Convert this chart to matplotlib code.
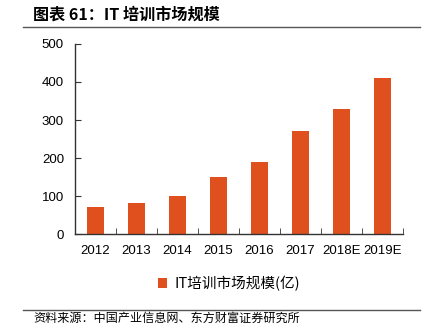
import matplotlib.pyplot as plt
from matplotlib.lines import Line2D

years = ['2012', '2013', '2014', '2015', '2016', '2017', '2018E', '2019E']
market_size = [72, 82, 100, 150, 190, 270, 330, 410]
series_name = 'IT培训市场规模(亿)'
title_text = '图表 61：IT 培训市场规模'
source_text = '资料来源：中国产业信息网、东方财富证券研究所'

cjk = ['Noto Sans CJK SC', 'DejaVu Sans']
bar_color = '#E0501E'

fig = plt.figure(figsize=(4.39, 3.33), dpi=100)
ax = fig.add_axes([0.171, 0.297, 0.747, 0.571])

x = range(len(years))
ax.bar(x, market_size, width=0.42, color=bar_color, label=series_name)

ax.set_xlim(-0.5, len(years) - 0.5)
ax.set_ylim(0, 500)
ax.set_yticks([0, 100, 200, 300, 400, 500])
ax.set_xticks(list(x))
ax.set_xticklabels(years)
ax.set_xticks([i + 0.5 for i in range(-1, len(years))], minor=True)

for side in ['top', 'right']:
    ax.spines[side].set_visible(False)
for side in ['left', 'bottom']:
    ax.spines[side].set_color('#333333')
    ax.spines[side].set_linewidth(1.0)

ax.tick_params(axis='y', direction='in', length=4, color='#333333',
               labelsize=9.5, pad=8)
ax.tick_params(axis='x', which='major', length=0, labelsize=9.5, pad=8)
ax.tick_params(axis='x', which='minor', direction='in', length=4, color='#333333')
for lab in ax.get_xticklabels() + ax.get_yticklabels():
    lab.set_family('Liberation Sans')

leg = ax.legend(loc='upper center', bbox_to_anchor=(0.47, -0.15), frameon=False,
                prop={'family': cjk, 'size': 10.5}, handlelength=0.6, handleheight=0.6,
                handletextpad=0.5)

fig.text(0.075, 0.955, title_text, fontsize=11.6, fontweight='bold', family=cjk,
         va='center', ha='left')
fig.add_artist(Line2D([0.052, 0.957], [0.918, 0.918], color='#555555', lw=1.0))
fig.add_artist(Line2D([0.052, 0.957], [0.069, 0.069], color='#555555', lw=1.0))
fig.text(0.075, 0.043, source_text, fontsize=8.7, family=cjk, va='center', ha='left')

fig.savefig('out.png', dpi=100)
